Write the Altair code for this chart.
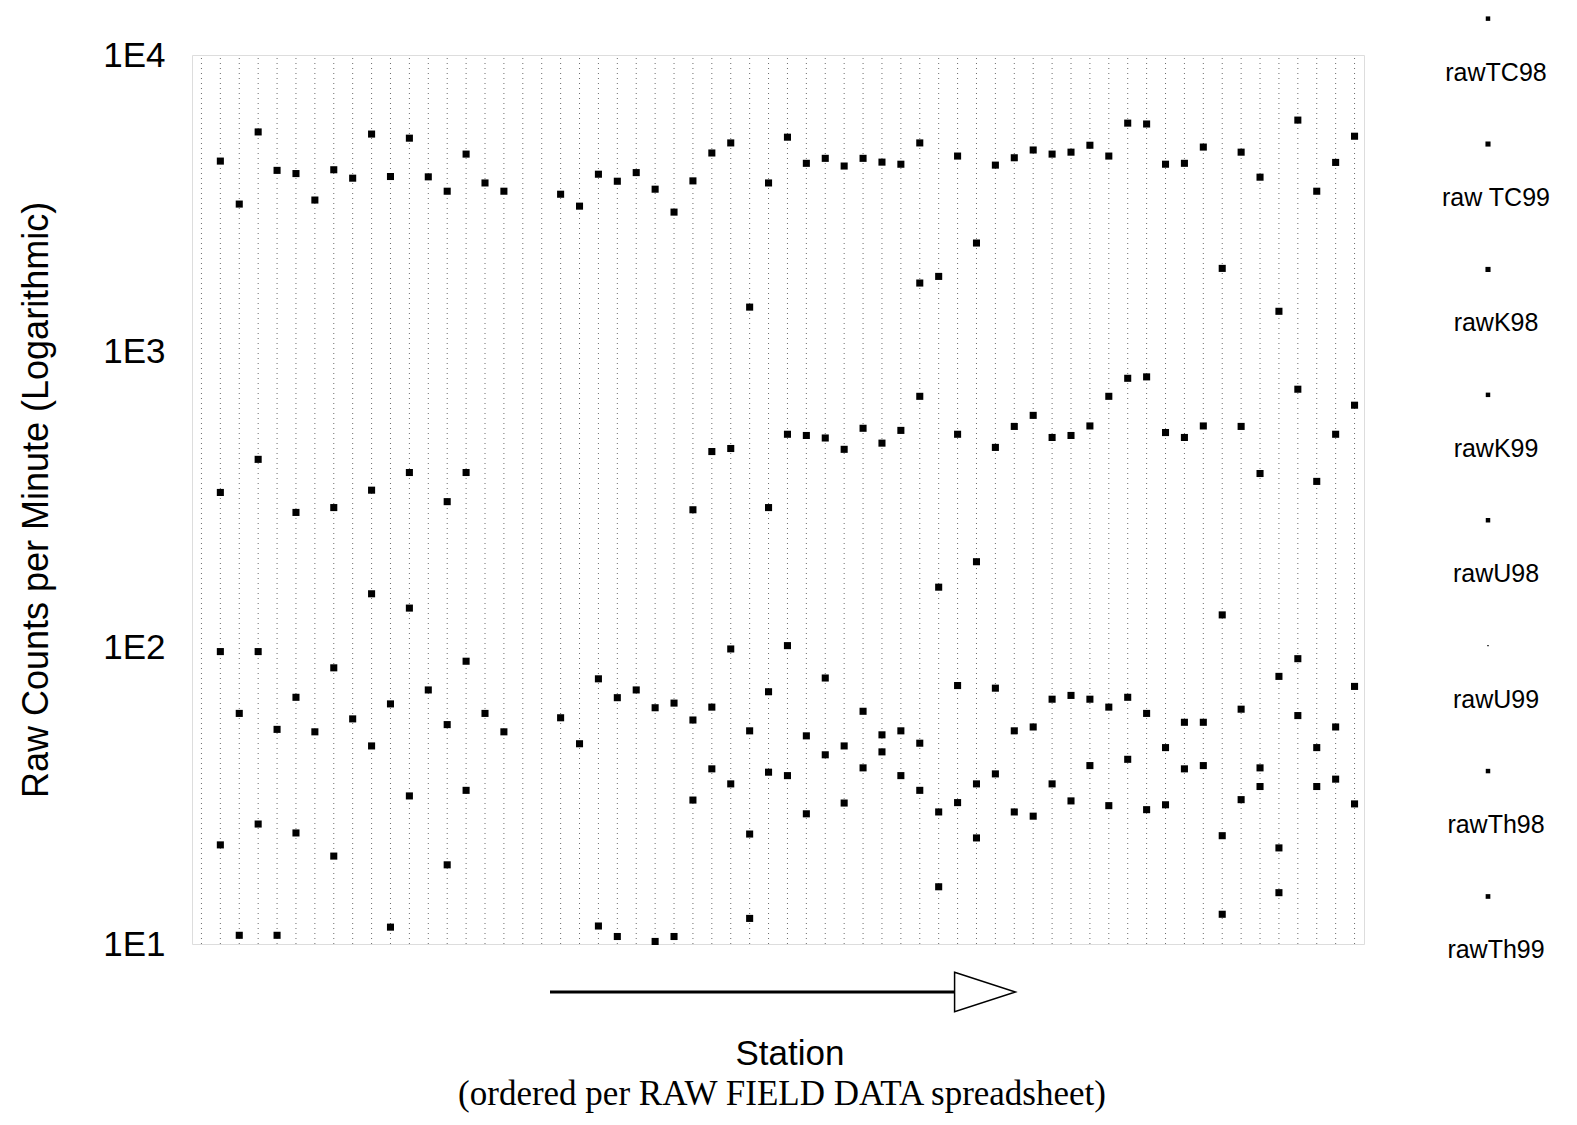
import altair as alt
import pandas as pd

# ---------------- data ----------------
grid_stations = list(range(-1, 61))

TC98 = {0: 4385, 2: 5500, 4: 3980, 6: 4100, 8: 5410, 10: 5240, 12: 3470, 13: 4630,
        25: 3760, 26: 4670, 27: 5050, 28: 1410, 29: 3700, 30: 5280, 31: 4310, 32: 4480,
        33: 4220, 34: 4480, 35: 4350, 36: 4280, 37: 5050, 38: 1790, 39: 4560, 40: 2320,
        41: 4250, 42: 4500, 43: 4780, 44: 4630, 45: 4700, 46: 4960, 47: 4560, 48: 5890,
        49: 5850, 50: 4280, 51: 4310, 52: 4890, 53: 1905, 54: 4700, 55: 3870, 56: 1365,
        57: 6030, 58: 3470, 59: 4340, 60: 5320}
TC99 = {1: 3140, 3: 4080, 5: 3240, 7: 3840, 9: 3890, 11: 3880, 14: 3700, 15: 3470,
        18: 3390, 19: 3090, 20: 3960, 21: 3750, 22: 4010, 23: 3525, 24: 2950, 37: 1700}
K98 = {0: 334, 2: 432, 4: 286, 6: 297, 8: 340, 10: 390, 12: 311, 13: 390,
       25: 292, 26: 459, 27: 470, 28: 52.4, 29: 297, 30: 525, 31: 520, 32: 510,
       33: 467, 34: 550, 35: 490, 36: 541, 37: 705, 38: 160, 39: 525, 40: 195,
       41: 474, 42: 558, 43: 608, 44: 512, 45: 520, 46: 560, 47: 705, 48: 811,
       49: 820, 50: 532, 51: 512, 52: 560, 53: 129, 54: 558, 55: 387, 56: 80,
       57: 745, 58: 364, 59: 525, 60: 658}
K99 = {1: 60, 3: 53, 5: 52, 7: 57.5, 9: 64.6, 11: 72, 14: 60, 15: 52,
       18: 58, 19: 47.4, 20: 78.5, 21: 67.8, 22: 72, 23: 62.7, 24: 65}
U98 = {0: 97, 2: 97, 4: 68, 6: 85.5, 8: 152, 10: 136, 12: 55, 13: 90,
       25: 57, 26: 63, 27: 99, 28: 23.5, 29: 71, 30: 101.6, 31: 50.4, 32: 79,
       33: 46.6, 34: 61, 35: 50.8, 36: 52.4, 37: 47.6, 38: 27.9, 39: 74.5, 40: 34.7,
       41: 73, 42: 52.4, 43: 54, 44: 67, 45: 69, 46: 67, 47: 63, 48: 68,
       49: 60, 50: 46, 51: 56, 52: 56, 53: 23.2, 54: 62, 55: 39.3, 56: 21.1,
       57: 91.8, 58: 46, 59: 54, 60: 74}
U99 = {}
Th98 = {0: 21.6, 2: 25.4, 4: 23.7, 6: 19.8, 8: 46.6, 10: 31.6, 12: 18.5, 13: 33,
        25: 30.6, 26: 39, 27: 34.7, 28: 12.2, 29: 38, 30: 37, 31: 27.5, 32: 43.5,
        33: 29.9, 34: 39.3, 35: 44.5, 36: 37, 37: 33, 38: 15.6, 39: 30, 40: 22.8,
        41: 37.5, 42: 27.9, 43: 27, 44: 34.7, 45: 30.4, 46: 40, 47: 29.3, 48: 42,
        49: 28.4, 50: 29.5, 51: 39, 52: 40, 53: 12.6, 54: 30.7, 55: 34, 56: 14.9,
        57: 59, 58: 34, 59: 36, 60: 29.7}
Th99 = {1: 10.7, 3: 10.7, 9: 11.4, 20: 11.5, 21: 10.6, 23: 10.2, 24: 10.6}

series_names = ["rawTC98", "raw TC99", "rawK98", "rawK99",
                "rawU98", "rawU99", "rawTh98", "rawTh99"]
series_data = [TC98, TC99, K98, K99, U98, U99, Th98, Th99]
legend_marker_sizes = [20, 26, 26, 20, 20, 2, 20, 22]
y_ticks = [10, 100, 1000, 10000]

# ---------------- tables ----------------
rows = []
for name, d in zip(series_names, series_data):
    for st, v in d.items():
        rows.append({"station": st, "value": v, "series": name})
points_df = pd.DataFrame(rows)
grid_df = pd.DataFrame({"station": grid_stations,
                        "lo": [y_ticks[0]] * len(grid_stations),
                        "hi": [y_ticks[-1]] * len(grid_stations)})
legend_df = pd.DataFrame({"series": series_names,
                          "idx": list(range(len(series_names))),
                          "msize": legend_marker_sizes})
one = pd.DataFrame({"k": [0]})

SANS = "Liberation Sans"
SERIF = "Liberation Serif"

xscale = alt.Scale(domain=[-1.5, 60.5], nice=False, zero=False)
yscale = alt.Scale(type="log", domain=[10, 10000], nice=False)

grid = alt.Chart(grid_df).mark_rule(
    color="#3a3a3a", strokeWidth=1, strokeDash=[1, 4], opacity=0.75
).encode(
    x=alt.X("station:Q", scale=xscale, axis=None),
    y=alt.Y("lo:Q", scale=yscale, axis=None),
    y2="hi:Q",
)

pts = alt.Chart(points_df).mark_point(
    shape="square", filled=True, color="black", size=50, opacity=1
).encode(
    x=alt.X("station:Q", scale=xscale, axis=None),
    y=alt.Y("value:Q", scale=yscale,
            axis=alt.Axis(values=y_ticks, labelExpr="'1E' + round(log(datum.value)/LN10)",
                          grid=False, ticks=False, tickSize=0, domain=False,
                          labelFont=SANS, labelFontSize=35, labelColor="black",
                          labelPadding=27,
                          title="Raw Counts per Minute (Logarithmic)",
                          titleFont=SANS, titleFontSize=36, titleFontWeight="normal",
                          titleColor="black", titlePadding=47)),
)

arrow_line = alt.Chart(one).mark_rule(color="black", strokeWidth=3).encode(
    x=alt.value(358), x2=alt.value(765), y=alt.value(937)
)
arrow_head = alt.Chart(one).mark_point(
    shape="M-1,-0.65L1,0L-1,0.65Z", filled=True, fill="white",
    stroke="black", strokeWidth=1.5, size=3700, opacity=1
).encode(x=alt.value(793), y=alt.value(937))

station_txt = alt.Chart(one).mark_text(
    font=SANS, fontSize=35, color="black", baseline="alphabetic", align="center"
).encode(x=alt.value(598), y=alt.value(1010), text=alt.value("Station"))

sub_txt = alt.Chart(one).mark_text(
    font=SERIF, fontSize=35, color="black", baseline="alphabetic", align="center"
).encode(x=alt.value(590), y=alt.value(1050),
         text=alt.value("(ordered per RAW FIELD DATA spreadsheet)"))

lscale = alt.Scale(domain=[0.29, 7.379], reverse=True, nice=False, zero=False)
leg_marks = alt.Chart(legend_df).mark_point(
    shape="square", filled=True, color="black", opacity=1
).encode(
    x=alt.value(1296),
    y=alt.Y("idx:Q", scale=lscale, axis=None),
    size=alt.Size("msize:Q", scale=None, legend=None),
)
leg_text = alt.Chart(legend_df).mark_text(
    font=SANS, fontSize=25, color="black", baseline="middle", align="center", dy=54
).encode(
    x=alt.value(1304),
    y=alt.Y("idx:Q", scale=lscale, axis=None),
    text="series:N",
)

chart = alt.layer(
    grid, pts, arrow_line, arrow_head, station_txt, sub_txt, leg_marks, leg_text
).resolve_scale(y="independent").properties(
    width=1172, height=889,
    padding={"left": 184, "top": 47, "right": 200, "bottom": 173},
    autosize=alt.AutoSizeParams(type="none"),
).configure_view(stroke=None).configure(background="white")

chart.save("out.html", embed_options={"renderer": "svg", "actions": False})
